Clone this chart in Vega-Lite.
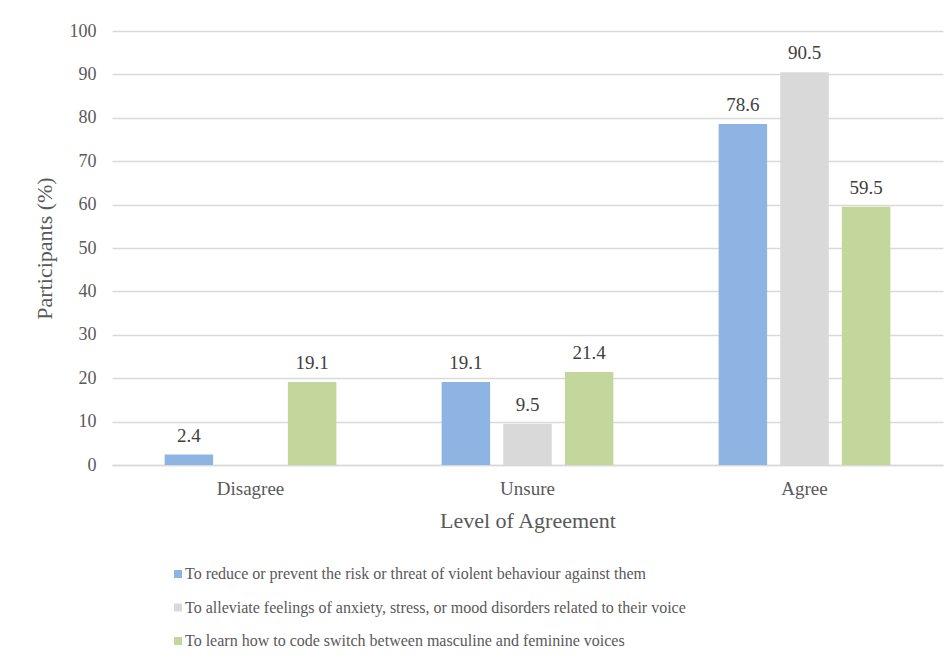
{
  "$schema": "https://vega.github.io/schema/vega-lite/v6.json",
  "width": 831,
  "height": 434,
  "autosize": {"type": "none"},
  "padding": {"left": 112, "top": 31, "right": 9, "bottom": 199},
  "background": "white",
  "config": {
    "font": "Liberation Serif",
    "view": {"stroke": null}
  },
  "data": {
    "values": [
      {"level": "Disagree", "reason": "To reduce or prevent the risk or threat of violent behaviour against them", "pct": 2.4, "lbl": "2.4"},
      {"level": "Disagree", "reason": "To alleviate feelings of anxiety, stress, or mood disorders related to their voice", "pct": 0, "lbl": ""},
      {"level": "Disagree", "reason": "To learn how to code switch between masculine and feminine voices", "pct": 19.1, "lbl": "19.1"},
      {"level": "Unsure", "reason": "To reduce or prevent the risk or threat of violent behaviour against them", "pct": 19.1, "lbl": "19.1"},
      {"level": "Unsure", "reason": "To alleviate feelings of anxiety, stress, or mood disorders related to their voice", "pct": 9.5, "lbl": "9.5"},
      {"level": "Unsure", "reason": "To learn how to code switch between masculine and feminine voices", "pct": 21.4, "lbl": "21.4"},
      {"level": "Agree", "reason": "To reduce or prevent the risk or threat of violent behaviour against them", "pct": 78.6, "lbl": "78.6"},
      {"level": "Agree", "reason": "To alleviate feelings of anxiety, stress, or mood disorders related to their voice", "pct": 90.5, "lbl": "90.5"},
      {"level": "Agree", "reason": "To learn how to code switch between masculine and feminine voices", "pct": 59.5, "lbl": "59.5"}
    ]
  },
  "encoding": {
    "x": {
      "field": "level", "type": "nominal", "sort": ["Disagree", "Unsure", "Agree"],
      "scale": {"paddingInner": 0.38, "paddingOuter": 0.19},
      "axis": {
        "title": "Level of Agreement", "titleFontSize": 22, "titleFontWeight": "normal", "titleColor": "#595959", "titlePadding": 12,
        "labelAngle": 0, "labelFontSize": 19, "labelColor": "#595959", "labelPadding": 14,
        "ticks": false, "domainColor": "#d9d9d9", "domainWidth": 1.5, "grid": false
      }
    },
    "xOffset": {
      "field": "reason", "type": "nominal",
      "sort": [
        "To reduce or prevent the risk or threat of violent behaviour against them",
        "To alleviate feelings of anxiety, stress, or mood disorders related to their voice",
        "To learn how to code switch between masculine and feminine voices"
      ],
      "scale": {"paddingInner": 0.213, "paddingOuter": 0}
    },
    "y": {
      "field": "pct", "type": "quantitative",
      "scale": {"domain": [0, 100]},
      "axis": {
        "title": "Participants (%)", "titleFontSize": 22, "titleFontWeight": "normal", "titleColor": "#595959", "titlePadding": 13,
        "values": [0, 10, 20, 30, 40, 50, 60, 70, 80, 90, 100], "labelFontSize": 18, "labelColor": "#595959", "labelPadding": 16,
        "ticks": false, "domain": false, "gridColor": "#d9d9d9", "gridWidth": 1.5
      }
    }
  },
  "layer": [
    {
      "mark": {"type": "bar"},
      "encoding": {
        "color": {
          "field": "reason", "type": "nominal",
          "sort": [
            "To reduce or prevent the risk or threat of violent behaviour against them",
            "To alleviate feelings of anxiety, stress, or mood disorders related to their voice",
            "To learn how to code switch between masculine and feminine voices"
          ],
          "scale": {
            "domain": [
              "To reduce or prevent the risk or threat of violent behaviour against them",
              "To alleviate feelings of anxiety, stress, or mood disorders related to their voice",
              "To learn how to code switch between masculine and feminine voices"
            ],
            "range": ["#8eb4e3", "#d9d9d9", "#c3d69b"]
          },
          "legend": {
            "title": null, "orient": "none", "legendX": 58, "legendY": 535, "direction": "vertical",
            "symbolType": "square", "symbolSize": 64, "symbolStrokeWidth": 0, "labelFontSize": 16, "labelColor": "#595959",
            "labelLimit": 800, "rowPadding": 17.5, "labelOffset": -1
          }
        }
      }
    },
    {
      "mark": {"type": "text", "dy": -19, "fontSize": 19, "color": "#404040"},
      "encoding": {"text": {"field": "lbl"}}
    }
  ]
}
